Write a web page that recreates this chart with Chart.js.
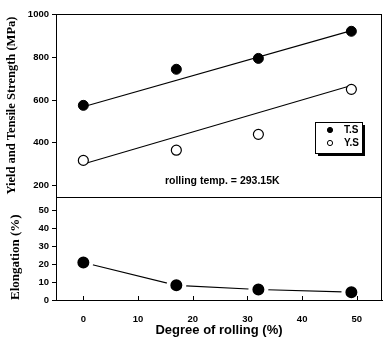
<!DOCTYPE html>
<html>
<head>
<meta charset="utf-8">
<script src="https://cdn.jsdelivr.net/npm/chart.js@4/dist/chart.umd.min.js"></script>
<style>
  html, body { margin: 0; padding: 0; background: #fff; }
  #wrap { width: 385px; height: 351px; }
</style>
</head>
<body>
<div id="wrap"><canvas id="chart" width="385" height="351"></canvas></div>
<script>
// data
const degree = [0, 17, 32, 49]
const tensile = [575, 744, 795, 922]
const yieldStr = [317, 365, 439, 650]
const elongation = [21, 8.2, 5.9, 4.4]

// straight fitted lines (ends)
const fitX = [0, 49]
const tensileFit = [568, 925]
const yieldFit = [300, 668]

const xTicks = [0, 10, 20, 30, 40, 50]
const topTicks = [200, 400, 600, 800, 1000]
const botTicks = [0, 10, 20, 30, 40, 50]

const note = 'rolling temp. = 293.15K'

const pts = (xs, ys) => xs.map((x, i) => ({x, y: ys[i]}))
const sans = 'Liberation Sans, Arial, sans-serif'
const serif = 'Liberation Serif, Times New Roman, serif'

// the layout keeps some room on the right; stretch the plot to the frame edge
const PLOT_RIGHT = 382
const fixRight = {
    id: 'fixRight',
    afterLayout(chart) {
        const a = chart.chartArea
        if (a.right === PLOT_RIGHT) return
        a.right = PLOT_RIGHT
        a.width = a.right - a.left
        const x = chart.scales.x
        x.right = PLOT_RIGHT
        x.width = x.right - x.left
        x.configure()
        x._labelItems = null
        x._gridLineItems = null
    }
}

// frame, divider, inward x ticks, note and legend box
const extras = {
    id: 'extras',
    afterDraw(chart) {
        const {ctx, chartArea: a, scales} = chart
        ctx.save()
        ctx.strokeStyle = '#000'
        ctx.lineWidth = 1
        ctx.strokeRect(a.left + 0.5, a.top + 0.5, a.right - a.left - 1, a.bottom - a.top)
        const yDiv = Math.round(scales.yTop.bottom) + 0.5
        ctx.beginPath()
        ctx.moveTo(a.left, yDiv)
        ctx.lineTo(a.right, yDiv)
        ctx.stroke()
        // x ticks point up into the plot
        xTicks.forEach(v => {
            const px = Math.round(scales.x.getPixelForValue(v)) + 0.5
            ctx.beginPath()
            ctx.moveTo(px, a.bottom)
            ctx.lineTo(px, a.bottom - 4)
            ctx.stroke()
        })
        // note
        ctx.fillStyle = '#000'
        ctx.font = 'bold 10.5px ' + sans
        ctx.textAlign = 'center'
        ctx.textBaseline = 'middle'
        ctx.fillText(note, scales.x.getPixelForValue(25.4), scales.yTop.getPixelForValue(218))
        // legend
        const bx = a.right - 67, by = a.top + 108, bw = 47, bh = 31
        ctx.fillRect(bx + 3, by + 3, bw, bh)
        ctx.fillStyle = '#fff'
        ctx.fillRect(bx, by, bw, bh)
        ctx.strokeRect(bx + 0.5, by + 0.5, bw, bh)
        const items = [chart.data.datasets[0], chart.data.datasets[1]]
        items.forEach((ds, i) => {
            const cy = by + 8 + i * 13
            ctx.beginPath()
            ctx.arc(bx + 15, cy, 2.6, 0, Math.PI * 2)
            ctx.fillStyle = ds.pointBackgroundColor
            ctx.fill()
            ctx.lineWidth = 1
            ctx.stroke()
            ctx.fillStyle = '#000'
            ctx.textAlign = 'left'
            ctx.font = 'bold 10px ' + sans
            ctx.fillText(ds.label, bx + 29, cy + 0.5)
        })
        ctx.restore()
    }
}

const tickFont = {family: sans, size: 9.5, weight: 'bold'}
const plain = v => String(v)

new Chart(document.getElementById('chart'), {
    type: 'scatter',
    data: {
        datasets: [
            {label: 'T.S', data: pts(degree, tensile), yAxisID: 'yTop',
             pointRadius: 5, pointBackgroundColor: '#000', pointBorderColor: '#000', pointBorderWidth: 1},
            {label: 'Y.S', data: pts(degree, yieldStr), yAxisID: 'yTop',
             pointRadius: 5, pointBackgroundColor: '#fff', pointBorderColor: '#000', pointBorderWidth: 1.2},
            {label: 'T.S fit', data: pts(fitX, tensileFit), yAxisID: 'yTop', showLine: true,
             pointRadius: 0, borderColor: '#000', borderWidth: 1.1},
            {label: 'Y.S fit', data: pts(fitX, yieldFit), yAxisID: 'yTop', showLine: true,
             pointRadius: 0, borderColor: '#000', borderWidth: 1.1},
            {label: 'Elongation', data: pts(degree, elongation), yAxisID: 'yBot', showLine: true,
             borderColor: '#000', borderWidth: 1.1,
             pointRadius: 8, pointBackgroundColor: '#000', pointBorderColor: '#fff', pointBorderWidth: 4},
        ]
    },
    options: {
        responsive: false,
        animation: false,
        layout: {padding: {top: 14, right: 3, left: 0, bottom: 0}},
        plugins: {legend: {display: false}, tooltip: {enabled: false}},
        scales: {
            x: {
                type: 'linear', position: 'bottom', min: -5, max: 54.6,
                afterBuildTicks: s => { s.ticks = xTicks.map(value => ({value})) },
                afterFit: s => { s.height = 51; s.paddingLeft = 0; s.paddingRight = 0 },
                grid: {display: false},
                border: {display: true, color: '#000', width: 1},
                ticks: {color: '#000', font: tickFont, padding: 6, autoSkip: false, maxRotation: 0, callback: plain},
                title: {display: true, text: 'Degree of rolling (%)', color: '#000',
                        font: {family: sans, size: 13, weight: 'bold'}, padding: {top: 4, bottom: 13}}
            },
            yBot: {
                type: 'linear', position: 'left', stack: 'v', stackWeight: 102.7,
                min: 0, max: 57.6,
                afterBuildTicks: s => { s.ticks = botTicks.map(value => ({value})) },
                afterFit: s => { s.width = 56 },
                grid: {drawOnChartArea: false, tickLength: 4, color: '#000'},
                border: {display: true, color: '#000', width: 1},
                ticks: {color: '#000', font: tickFont, padding: 3, autoSkip: false, callback: plain},
                title: {display: true, text: 'Elongation (%)', color: '#000', align: 'start',
                        font: {family: serif, size: 13, weight: 'bold'}, padding: {top: 8, bottom: 0}}
            },
            yTop: {
                type: 'linear', position: 'left', stack: 'v', stackWeight: 182.8,
                min: 145, max: 1003,
                afterBuildTicks: s => { s.ticks = topTicks.map(value => ({value})) },
                afterFit: s => { s.width = 56 },
                grid: {drawOnChartArea: false, tickLength: 4, color: '#000'},
                border: {display: true, color: '#000', width: 1},
                ticks: {color: '#000', font: tickFont, padding: 3, autoSkip: false, callback: plain},
                title: {display: true, text: 'Yield and Tensile Strength (MPa)', color: '#000',
                        font: {family: serif, size: 12.5, weight: 'bold'}, padding: {top: 4, bottom: 0}}
            }
        }
    },
    plugins: [fixRight, extras]
})
</script>
</body>
</html>
